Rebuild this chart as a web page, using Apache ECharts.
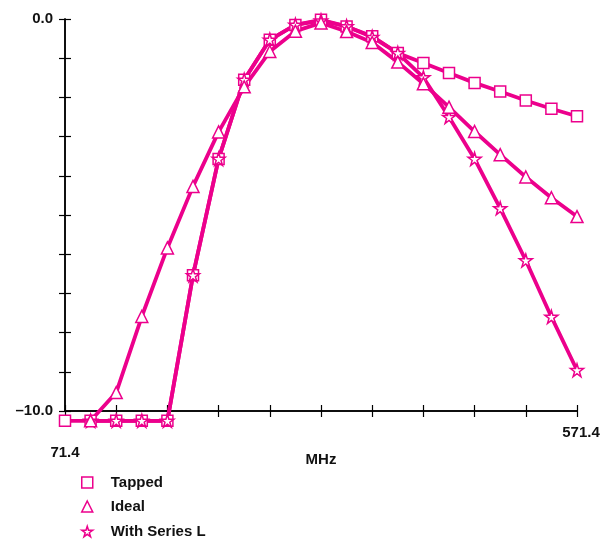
<!DOCTYPE html>
<html>
<head>
<meta charset="utf-8">
<script src="https://cdn.jsdelivr.net/npm/echarts@6/dist/echarts.min.js"></script>
<style>
  html, body { margin: 0; padding: 0; background: #fff; }
  #chart { width: 608px; height: 540px; }
</style>
</head>
<body>
<div id="chart"></div>
<script>
const freqs = [71.4, 96.4, 121.4, 146.4, 171.4, 196.4, 221.4, 246.4, 271.4, 296.4, 321.4,
  346.4, 371.4, 396.4, 421.4, 446.4, 471.4, 496.4, 521.4, 546.4, 571.4]
const tapped = [-10.25, -10.25, -10.25, -10.25, -10.25, -6.54, -3.57, -1.55, -0.53, -0.15, -0.02,
  -0.19, -0.44, -0.87, -1.12, -1.38, -1.63, -1.85, -2.08, -2.29, -2.48]
const ideal = [null, -10.25, -9.53, -7.59, -5.84, -4.27, -2.88, -1.73, -0.83, -0.31, -0.1,
  -0.32, -0.6, -1.1, -1.65, -2.25, -2.87, -3.46, -4.03, -4.56, -5.04]
const seriesL = [null, -10.25, -10.25, -10.25, -10.25, -6.54, -3.57, -1.55, -0.53, -0.15, -0.04,
  -0.19, -0.46, -0.87, -1.49, -2.5, -3.57, -4.83, -6.16, -7.6, -8.96]
const names = ['Tapped', 'Ideal', 'With Series L']

const pink = '#ec008c'
const star = 'path://M50,2 L61,37 L98,37 L68,59 L79,95 L50,73 L21,95 L32,59 L2,37 L39,37 Z'
const font = '"Liberation Sans", Arial, sans-serif'
const txt = { fontFamily: font, fontWeight: 'bold', fontSize: 15, color: '#111' }

const myChart = echarts.init(document.getElementById('chart'))

function pairs(vals) {
  return vals.map((v, i) => [freqs[i], v])
}

function makeSeries(name, vals, symbol, size) {
  return {
    name,
    type: 'line',
    data: pairs(vals),
    clip: false,
    symbol,
    symbolSize: size,
    showAllSymbol: true,
    lineStyle: { color: pink, width: 3.8 },
    itemStyle: { color: '#fff', borderColor: pink, borderWidth: 1.5 }
  }
}

// one legend per row so nothing wraps into columns
function makeLegend(name, icon, top) {
  return {
    left: 81,
    top,
    padding: 0,
    itemWidth: 11,
    itemHeight: 11,
    data: [{ name, icon }],
    itemStyle: { color: '#fff', borderColor: pink, borderWidth: 1.5 },
    textStyle: { ...txt, padding: [0, 0, 0, 13] }
  }
}

// ticks cross the axis line: one axis with outside ticks, a twin with inside ticks
const xBase = {
  type: 'value',
  position: 'bottom',
  min: 71.4,
  max: 571.4,
  interval: 50,
  splitLine: { show: false },
  axisLine: { onZero: false, lineStyle: { color: '#000', width: 1.5 } },
  axisTick: { lineStyle: { color: '#000', width: 1.2 }, length: 6 }
}
const yBase = {
  type: 'value',
  position: 'left',
  min: -10,
  max: 0,
  interval: 1,
  splitLine: { show: false },
  axisLine: { onZero: false, lineStyle: { color: '#000', width: 1.5 } },
  axisTick: { lineStyle: { color: '#000', width: 1.2 }, length: 6 }
}

const option = {
  animation: false,
  grid: { left: 65, right: 31, top: 19, bottom: 129 },
  legend: [
    makeLegend(names[0], 'rect', 475),
    makeLegend(names[1], 'triangle', 499),
    makeLegend(names[2], star, 524)
  ],
  xAxis: [
    {
      ...xBase,
      name: 'MHz',
      nameLocation: 'middle',
      nameGap: 41,
      nameMoveOverlap: false,
      nameTextStyle: txt,
      axisLabel: {
        ...txt,
        margin: 14,
        showMinLabel: true,
        showMaxLabel: true,
        formatter: v => {
          if (Math.abs(v - 71.4) < 0.01) return '{lo|71.4}'
          if (Math.abs(v - 571.4) < 0.01) return '{hi|571.4}'
          return ''
        },
        rich: {
          lo: { ...txt, padding: [20, 0, 0, 0] },
          hi: { ...txt, padding: [0, 0, 0, 8] }
        }
      }
    },
    { ...xBase, axisTick: { ...xBase.axisTick, inside: true }, axisLabel: { show: false } }
  ],
  yAxis: [
    {
      ...yBase,
      axisLabel: {
        ...txt,
        margin: 12,
        formatter: v => (v === 0 ? '0.0' : v === -10 ? '\u201310.0' : '')
      }
    },
    { ...yBase, axisTick: { ...yBase.axisTick, inside: true }, axisLabel: { show: false } }
  ],
  series: [
    makeSeries(names[0], tapped, 'rect', 11),
    makeSeries(names[2], seriesL, star, 13),
    makeSeries(names[1], ideal, 'triangle', 12)
  ]
}
myChart.setOption(option)
</script>
</body>
</html>
